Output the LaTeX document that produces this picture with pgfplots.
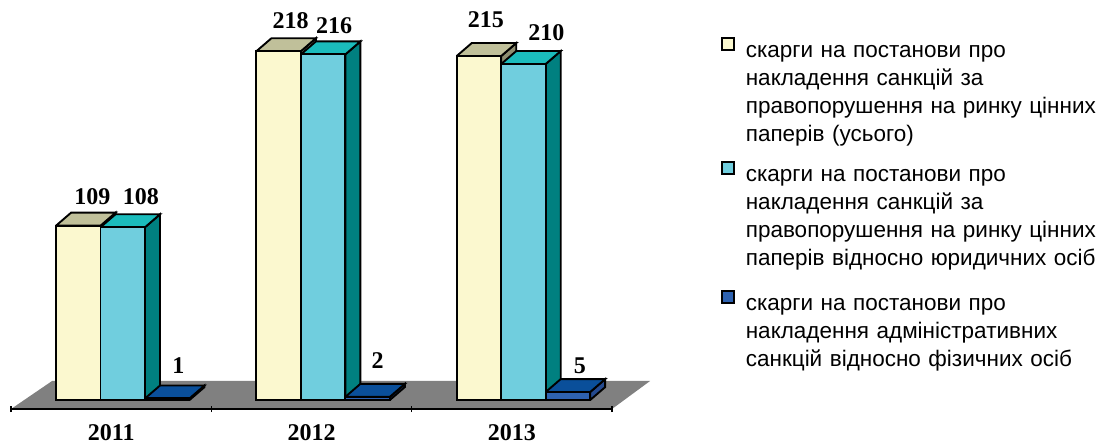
\documentclass[border=0pt]{standalone}
\usepackage{fontspec}
\setmainfont{Liberation Sans}
\newfontfamily\serifbold[BoldFont={Liberation Serif Bold}]{Liberation Serif}
\usepackage{pgfplots}
\pgfplotsset{compat=1.18}

\definecolor{cyellow}{HTML}{FBF8CF}
\definecolor{cyellowtop}{HTML}{C0C09A}
\definecolor{cyellowside}{HTML}{8E8E70}
\definecolor{ccyan}{HTML}{70CEDE}
\definecolor{ccyantop}{HTML}{1BBCBC}
\definecolor{ccyanside}{HTML}{008080}
\definecolor{cblue}{HTML}{2E62B0}
\definecolor{cbluetop}{HTML}{0A4F9A}
\definecolor{cblueside}{HTML}{244A8F}

% depth of the 3d effect in axis units, bar width in category units
\def\dpx{0.075}
\def\dpy{8.1}
\def\bw{0.222}

% top and side faces of one bar: left edge of the front face, value, top colour, side colour
\newcommand{\facets}[4]{%
  \pgfmathsetmacro\xa{#1}%
  \pgfmathsetmacro\xb{#1+\bw}%
  \pgfmathsetmacro\xc{#1+\bw+\dpx}%
  \pgfmathsetmacro\xd{#1+\dpx}%
  \pgfmathsetmacro\yb{#2+\dpy}%
  \addplot[forget plot,draw=black,line width=1.9pt,fill=#4] coordinates {(\xb,0)(\xc,\dpy)(\xc,\yb)(\xb,#2)(\xb,0)};
  \addplot[forget plot,draw=black,line width=1.9pt,fill=#3] coordinates {(\xa,#2)(\xb,#2)(\xc,\yb)(\xd,\yb)(\xa,#2)};
}
\newcommand{\vlabel}[4]{\node[font=\serifbold\fontsize{24}{24}\selectfont\bfseries,xshift=#3pt,yshift=#4pt] at (axis cs:#1,#2) {#2};}
% legend swatch: colour, depth of the row below the first line
\newcommand{\swatch}[2]{\draw[black,line width=1.7pt,fill=#1] (0pt,2pt) rectangle (12pt,14pt);\path[draw=none,fill=none] (24pt,16pt) -- (24pt,-#2pt);}

\begin{document}
\begin{tikzpicture}
\useasboundingbox (-11pt,-36pt) rectangle (1093pt,409pt);
\begin{axis}[
    scale only axis,
    width=601pt, height=409pt,
    clip=false,
    axis on top,
    xmin=-0.5, xmax=2.5,
    ymin=-5.6, ymax=250,
    axis x line=bottom,
    axis y line=none,
    axis line style={-,line width=1.2pt},
    xtick={0,1,2},
    xticklabels={2011,2012,2013},
    minor xtick={-0.5,0.5,1.5,2.5},
    major tick length=0pt,
    minor tick length=6pt,
    tick style={black,line width=1.2pt},
    xticklabel style={font=\serifbold\fontsize{24}{24}\selectfont\bfseries,yshift=-12pt},
    /pgf/number format/assume math mode=true,
    legend style={
        at={(1.176,0.9177)},anchor=north west,
        draw=none,fill=none,
        font=\fontsize{22.5}{28}\selectfont,
        row sep=0pt,
        nodes={text width=370pt,align=left,inner sep=0pt},
    },
    legend cell align=left,
]
% floor
\addplot[forget plot,fill=gray,draw=none] coordinates {(-0.5,-5.6)(2.5,-5.6)(2.69,11.9)(-0.295,11.9)(-0.5,-5.6)};

% series 1
\facets{-0.275}{109}{cyellowtop}{cyellowside}
\facets{0.725}{218}{cyellowtop}{cyellowside}
\facets{1.725}{215}{cyellowtop}{cyellowside}
\addplot[ybar,bar width=0.222,bar shift=-0.164,draw=black,line width=1.9pt,fill=cyellow,
    legend image code/.code={\swatch{cyellow}{108}}]
    coordinates {(0,109)(1,218)(2,215)};
\addlegendentry{скарги на постанови про\\накладення санкцій за\\правопорушення на ринку цінних\\паперів (усього)}

% series 2
\facets{-0.053}{108}{ccyantop}{ccyanside}
\facets{0.947}{216}{ccyantop}{ccyanside}
\facets{1.947}{210}{ccyantop}{ccyanside}
\addplot[ybar,bar width=0.222,bar shift=0.058,draw=black,line width=1.9pt,fill=ccyan,
    legend image code/.code={\swatch{ccyan}{113}}]
    coordinates {(0,108)(1,216)(2,210)};
\addlegendentry{скарги на постанови про\\накладення санкцій за\\правопорушення на ринку цінних\\паперів відносно юридичних осіб}

% series 3
\facets{0.169}{1}{cbluetop}{cblueside}
\facets{1.169}{2}{cbluetop}{cblueside}
\facets{2.169}{5}{cbluetop}{cblueside}
\addplot[ybar,bar width=0.222,bar shift=0.280,draw=black,line width=1.9pt,fill=cblue,
    legend image code/.code={\swatch{cblue}{70}}]
    coordinates {(0,1)(1,2)(2,5)};
\addlegendentry{скарги на постанови про\\накладення адміністративних\\санкцій відносно фізичних осіб}

% value labels
\vlabel{-0.164}{109}{14}{29}
\vlabel{0.058}{108}{18}{31}
\vlabel{0.28}{1}{11}{33}
\vlabel{0.836}{218}{12}{31}
\vlabel{1.058}{216}{11}{29}
\vlabel{1.28}{2}{10}{36}
\vlabel{1.836}{215}{7}{36}
\vlabel{2.058}{210}{23}{31}
\vlabel{2.28}{5}{12}{26}
\end{axis}
\end{tikzpicture}
\end{document}
